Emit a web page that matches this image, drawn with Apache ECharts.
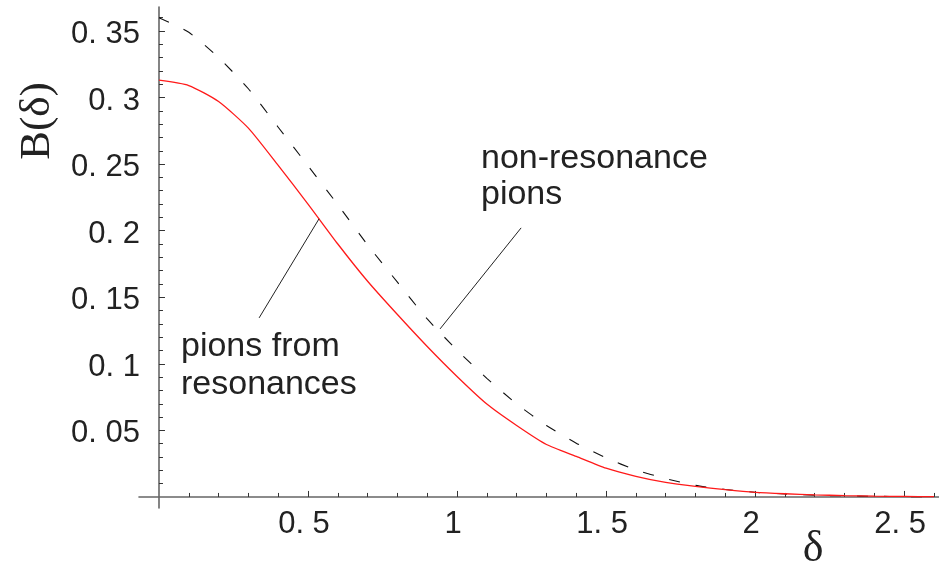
<!DOCTYPE html>
<html>
<head>
<meta charset="utf-8">
<script src="https://cdn.jsdelivr.net/npm/echarts@6/dist/echarts.min.js"></script>
<style>
html,body{margin:0;padding:0;background:#fff;}
#chart{width:939px;height:566px;}
</style>
</head>
<body>
<div id="chart"></div>
<script>
// ---- data ----
const deltaValues = [0, 0.1, 0.2, 0.3, 0.4, 0.5, 0.6, 0.7, 0.8, 0.9, 1.0, 1.1, 1.2, 1.3, 1.4, 1.5, 1.6, 1.7, 1.8, 1.9, 2.0, 2.1, 2.2, 2.3, 2.4, 2.5, 2.6];
const fromResonances = [0.313, 0.309, 0.297, 0.277, 0.249, 0.220, 0.190, 0.162, 0.137, 0.113, 0.0905, 0.0698, 0.0537, 0.0394, 0.0305, 0.0216, 0.0155, 0.0109, 0.0079, 0.0055, 0.0035, 0.0024, 0.0016, 0.0010, 0.0006, 0.0004, 0.0002];
const nonResonance = [0.360, 0.349, 0.330, 0.3066, 0.2777, 0.2487, 0.2195, 0.1893, 0.1613, 0.1337, 0.1103, 0.0891, 0.0699, 0.0537, 0.0404, 0.0293, 0.0203, 0.0138, 0.0087, 0.0056, 0.0035, 0.0022, 0.0013, 0.0008, 0.0005, 0.0003, 0.0002];

const xMajorTicks = [0.5, 1, 1.5, 2, 2.5];
const xTickLabels = ['0. 5', '1', '1. 5', '2', '2. 5'];
const xMinorTicks = [0.1, 0.2, 0.3, 0.4, 0.6, 0.7, 0.8, 0.9, 1.1, 1.2, 1.3, 1.4, 1.6, 1.7, 1.8, 1.9, 2.1, 2.2, 2.3, 2.4, 2.6];
const yMajorTicks = [0.05, 0.1, 0.15, 0.2, 0.25, 0.3, 0.35];
const yTickLabels = ['0. 05', '0. 1', '0. 15', '0. 2', '0. 25', '0. 3', '0. 35'];
const yMinorTicks = [0.01, 0.02, 0.03, 0.04, 0.06, 0.07, 0.08, 0.09, 0.11, 0.12, 0.13, 0.14, 0.16, 0.17, 0.18, 0.19, 0.21, 0.22, 0.23, 0.24, 0.26, 0.27, 0.28, 0.29, 0.31, 0.32, 0.33, 0.34, 0.36];

// annotation pointer lines (data coordinates)
const pointerResonances = [[0.336, 0.1345], [0.537, 0.2089]];
const pointerNonResonance = [[0.943, 0.1262], [1.215, 0.2021]];

const X_MIN = -0.067, X_MAX = 2.617, Y_MIN = -0.0083, Y_MAX = 0.368;

const chart = echarts.init(document.getElementById('chart'), null, {renderer: 'canvas'});

const labelFont = {fontFamily: 'Liberation Sans, Arial, sans-serif', fontSize: 31, color: '#222'};
const axisLineStyle = {color: '#666', width: 1.6};
const tickStyle = {color: '#333', width: 1};

function zip(xs, ys) { return xs.map((x, i) => [x, ys[i]]); }

const option = {
  animation: false,
  backgroundColor: '#fff',
  grid: {left: 139, right: 0, top: 7, bottom: 58, containLabel: false},
  xAxis: [
    {
      type: 'value', min: X_MIN, max: X_MAX, position: 'bottom',
      axisLine: {show: true, onZero: true, lineStyle: axisLineStyle},
      axisTick: {show: true, inside: true, length: 6, lineStyle: tickStyle, customValues: xMajorTicks},
      axisLabel: {show: true, customValues: xMajorTicks, margin: 1, padding: [0, 8, 0, 0],
        formatter: v => { const i = xMajorTicks.findIndex(t => Math.abs(t - v) < 1e-9); return i >= 0 ? xTickLabels[i] : ''; },
        ...labelFont},
      splitLine: {show: false}
    },
    {
      type: 'value', min: X_MIN, max: X_MAX, position: 'bottom',
      axisLine: {show: false, onZero: true},
      axisTick: {show: true, inside: true, length: 4, lineStyle: tickStyle, customValues: xMinorTicks},
      axisLabel: {show: false},
      splitLine: {show: false}
    }
  ],
  yAxis: [
    {
      type: 'value', min: Y_MIN, max: Y_MAX, position: 'left',
      axisLine: {show: true, onZero: true, lineStyle: axisLineStyle},
      axisTick: {show: true, inside: true, length: 6, lineStyle: tickStyle, customValues: yMajorTicks},
      axisLabel: {show: true, customValues: yMajorTicks, margin: -1, verticalAlign: 'top', lineHeight: 7,
        formatter: v => { const i = yMajorTicks.findIndex(t => Math.abs(t - v) < 1e-9); return i >= 0 ? yTickLabels[i] : ''; },
        ...labelFont},
      splitLine: {show: false}
    },
    {
      type: 'value', min: Y_MIN, max: Y_MAX, position: 'left',
      axisLine: {show: false, onZero: true},
      axisTick: {show: true, inside: true, length: 4, lineStyle: tickStyle, customValues: yMinorTicks},
      axisLabel: {show: false},
      splitLine: {show: false}
    }
  ],
  series: [
    {
      name: 'non-resonance pions', type: 'line', xAxisIndex: 0, yAxisIndex: 0,
      data: zip(deltaValues, nonResonance), showSymbol: false, smooth: 0.2,
      lineStyle: {color: '#111', width: 1.1, type: [11, 16]}, z: 3
    },
    {
      name: 'pions from resonances', type: 'line', xAxisIndex: 0, yAxisIndex: 0,
      data: zip(deltaValues, fromResonances), showSymbol: false, smooth: 0.2,
      lineStyle: {color: '#ff1a1a', width: 1.3}, z: 4
    },
    {
      name: 'pointer1', type: 'line', data: pointerResonances, showSymbol: false,
      lineStyle: {color: '#222', width: 1}, z: 5, silent: true
    },
    {
      name: 'pointer2', type: 'line', data: pointerNonResonance, showSymbol: false,
      lineStyle: {color: '#222', width: 1}, z: 5, silent: true
    }
  ],
  graphic: [
    {type: 'text', left: 481, top: 141, style: {text: 'non-resonance\npions', font: '34px "Liberation Sans", Arial, sans-serif', fill: '#222', lineHeight: 36}},
    {type: 'text', left: 181, top: 328, style: {text: 'pions from\nresonances', font: '34px "Liberation Sans", Arial, sans-serif', fill: '#222', lineHeight: 38}},
    {type: 'text', x: 38, y: 121, rotation: Math.PI / 2, style: {text: 'B(δ)', font: '43px "Liberation Serif", "Times New Roman", serif', fill: '#222', align: 'center', verticalAlign: 'middle'}},
    {type: 'text', x: 813, y: 549, style: {text: 'δ', font: '44px "Liberation Serif", "Times New Roman", serif', fill: '#222', align: 'center', verticalAlign: 'middle'}}
  ]
};
chart.setOption(option);
</script>
</body>
</html>
